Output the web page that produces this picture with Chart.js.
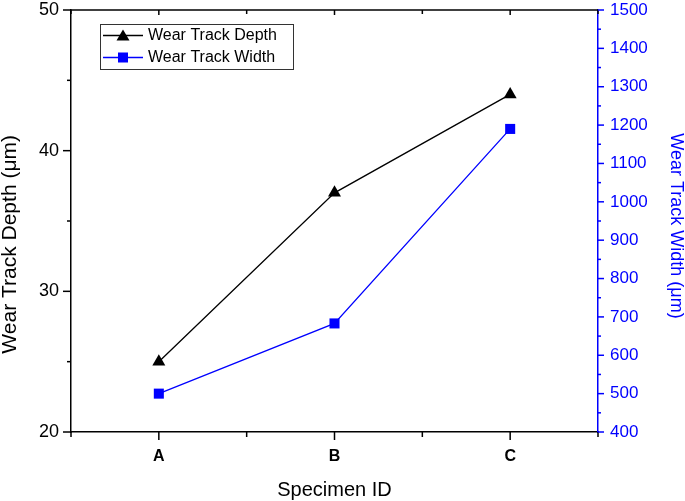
<!DOCTYPE html>
<html><head><meta charset="utf-8">
<script src="https://cdn.jsdelivr.net/npm/chart.js@4/dist/chart.umd.min.js"></script>
<style>html,body{margin:0;padding:0;background:#fff;overflow:hidden}#wrap{width:685px;height:501px}</style>
</head><body><div id="wrap"><canvas id="c" width="685" height="501"></canvas></div>
<script>
const categories = ['A', 'B', 'C'];
const depthValues = [25, 37, 44];
const widthValues = [500, 683, 1190];
const depthRange = [20, 50];
const widthRange = [400, 1500];
const seriesNames = ['Wear Track Depth', 'Wear Track Width'];

const FONT = '"Liberation Sans", Arial, sans-serif';
const BLUE = '#0000ff';

function fixPad(s) { s.paddingTop = 0; s.paddingBottom = 0; s.paddingLeft = 0; s.paddingRight = 0; }

const axisDeco = {
  id: 'axisDeco',
  afterDraw(chart) {
    const ctx = chart.ctx;
    const a = chart.chartArea;
    const x = chart.scales.x, y = chart.scales.y, y1 = chart.scales.y1;
    ctx.save();
    ctx.lineWidth = 1.5;
    ctx.strokeStyle = '#000';
    ctx.beginPath(); ctx.moveTo(a.left, a.top); ctx.lineTo(a.right, a.top); ctx.stroke();
    for (let v = depthRange[0]; v <= depthRange[1]; v += 5) {
      const p = y.getPixelForValue(v);
      const len = v % 10 === 0 ? 8 : 4;
      ctx.beginPath(); ctx.moveTo(a.left - len, p); ctx.lineTo(a.left, p); ctx.stroke();
    }
    for (let v = 0.5; v <= 3.5; v += 0.5) {
      const p = x.getPixelForValue(v);
      const major = Number.isInteger(v);
      const len = major ? 8 : 5;
      ctx.beginPath(); ctx.moveTo(p, a.bottom); ctx.lineTo(p, a.bottom + len); ctx.stroke();
      const tl = major ? 5 : 4;
      ctx.beginPath(); ctx.moveTo(p, a.top); ctx.lineTo(p, a.top + tl); ctx.stroke();
    }
    ctx.strokeStyle = BLUE;
    for (let v = widthRange[0]; v <= widthRange[1]; v += 50) {
      const p = y1.getPixelForValue(v);
      const len = v % 100 === 0 ? 6 : 3;
      ctx.beginPath(); ctx.moveTo(a.right, p); ctx.lineTo(a.right + len, p); ctx.stroke();
    }
    const lx = 100, ly = 24, lw = 193, lh = 45;
    ctx.fillStyle = '#fff';
    ctx.fillRect(lx, ly, lw, lh);
    ctx.strokeStyle = '#333';
    ctx.lineWidth = 1;
    ctx.strokeRect(lx + 0.5, ly + 0.5, lw, lh);
    const rows = [35.5, 57.5];
    chart.data.datasets.forEach((ds, i) => {
      const ry = rows[i];
      ctx.strokeStyle = ds.borderColor;
      ctx.lineWidth = 1.3;
      ctx.beginPath(); ctx.moveTo(103, ry); ctx.lineTo(143, ry); ctx.stroke();
      ctx.fillStyle = ds.pointBackgroundColor;
      if (ds.pointStyle === 'triangle') {
        ctx.beginPath();
        ctx.moveTo(123, ry - 6); ctx.lineTo(129.5, ry + 5); ctx.lineTo(116.5, ry + 5); ctx.closePath(); ctx.fill();
      } else {
        ctx.fillRect(118, ry - 5, 10, 10);
      }
      ctx.fillStyle = '#000';
      ctx.font = '16px ' + FONT;
      ctx.textBaseline = 'middle';
      ctx.textAlign = 'left';
      ctx.fillText(ds.label, 148, ry + 0.5);
    });
    ctx.restore();
  }
};

new Chart(document.getElementById('c'), {
  type: 'line',
  data: {
    datasets: [
      {
        label: seriesNames[0],
        data: categories.map((c, i) => ({ x: i + 1, y: depthValues[i] })),
        yAxisID: 'y',
        borderColor: '#000',
        backgroundColor: '#000',
        pointBackgroundColor: '#000',
        pointBorderWidth: 0,
        borderWidth: 1.3,
        pointStyle: 'triangle',
        pointRadius: 7.5,
        tension: 0
      },
      {
        label: seriesNames[1],
        data: categories.map((c, i) => ({ x: i + 1, y: widthValues[i] })),
        yAxisID: 'y1',
        borderColor: BLUE,
        backgroundColor: BLUE,
        pointBackgroundColor: BLUE,
        pointBorderWidth: 0,
        borderWidth: 1.3,
        pointStyle: 'rect',
        pointRadius: 7.1,
        tension: 0
      }
    ]
  },
  options: {
    responsive: false,
    devicePixelRatio: 1,
    animation: false,
    layout: { padding: { top: 10, left: 0, right: 0, bottom: 0 } },
    plugins: { legend: { display: false }, tooltip: { enabled: false } },
    scales: {
      x: {
        type: 'linear',
        position: 'bottom',
        min: 0.5, max: 3.5,
        afterFit: s => { s.height = 69; fixPad(s); },
        grid: { display: false, drawTicks: false },
        border: { display: true, color: '#000', width: 1.5 },
        ticks: {
          stepSize: 0.5,
          autoSkip: false,
          maxRotation: 0,
          padding: 15,
          color: '#000',
          font: { family: FONT, size: 16, weight: 'bold' },
          callback: v => Number.isInteger(v) ? categories[v - 1] : ''
        },
        title: {
          display: true,
          text: 'Specimen ID',
          color: '#000',
          font: { family: FONT, size: 20, lineHeight: 1 },
          padding: { top: 0, bottom: 1 }
        }
      },
      y: {
        type: 'linear',
        position: 'left',
        min: depthRange[0], max: depthRange[1],
        afterFit: s => { s.width = 71; fixPad(s); },
        grid: { display: false, drawTicks: false },
        border: { display: true, color: '#000', width: 1.5 },
        ticks: {
          stepSize: 10,
          padding: 12,
          color: '#000',
          font: { family: FONT, size: 18 },
          callback: v => String(v)
        },
        title: {
          display: true,
          text: 'Wear Track Depth (\u03bcm)        ',
          color: '#000',
          font: { family: FONT, size: 21, lineHeight: 1 },
          padding: { top: 0, bottom: 0 }
        }
      },
      y1: {
        type: 'linear',
        position: 'right',
        min: widthRange[0], max: widthRange[1],
        afterFit: s => { s.width = 87; fixPad(s); },
        grid: { display: false, drawTicks: false },
        border: { display: true, color: BLUE, width: 1.5 },
        ticks: {
          stepSize: 100,
          padding: 12,
          color: BLUE,
          font: { family: FONT, size: 17 },
          callback: v => String(v)
        },
        title: {
          display: true,
          text: '  Wear Track Width (\u03bcm)',
          color: BLUE,
          font: { family: FONT, size: 18, lineHeight: 1 },
          padding: { top: 0, bottom: 0 }
        }
      }
    }
  },
  plugins: [axisDeco]
});
</script>
</body></html>
